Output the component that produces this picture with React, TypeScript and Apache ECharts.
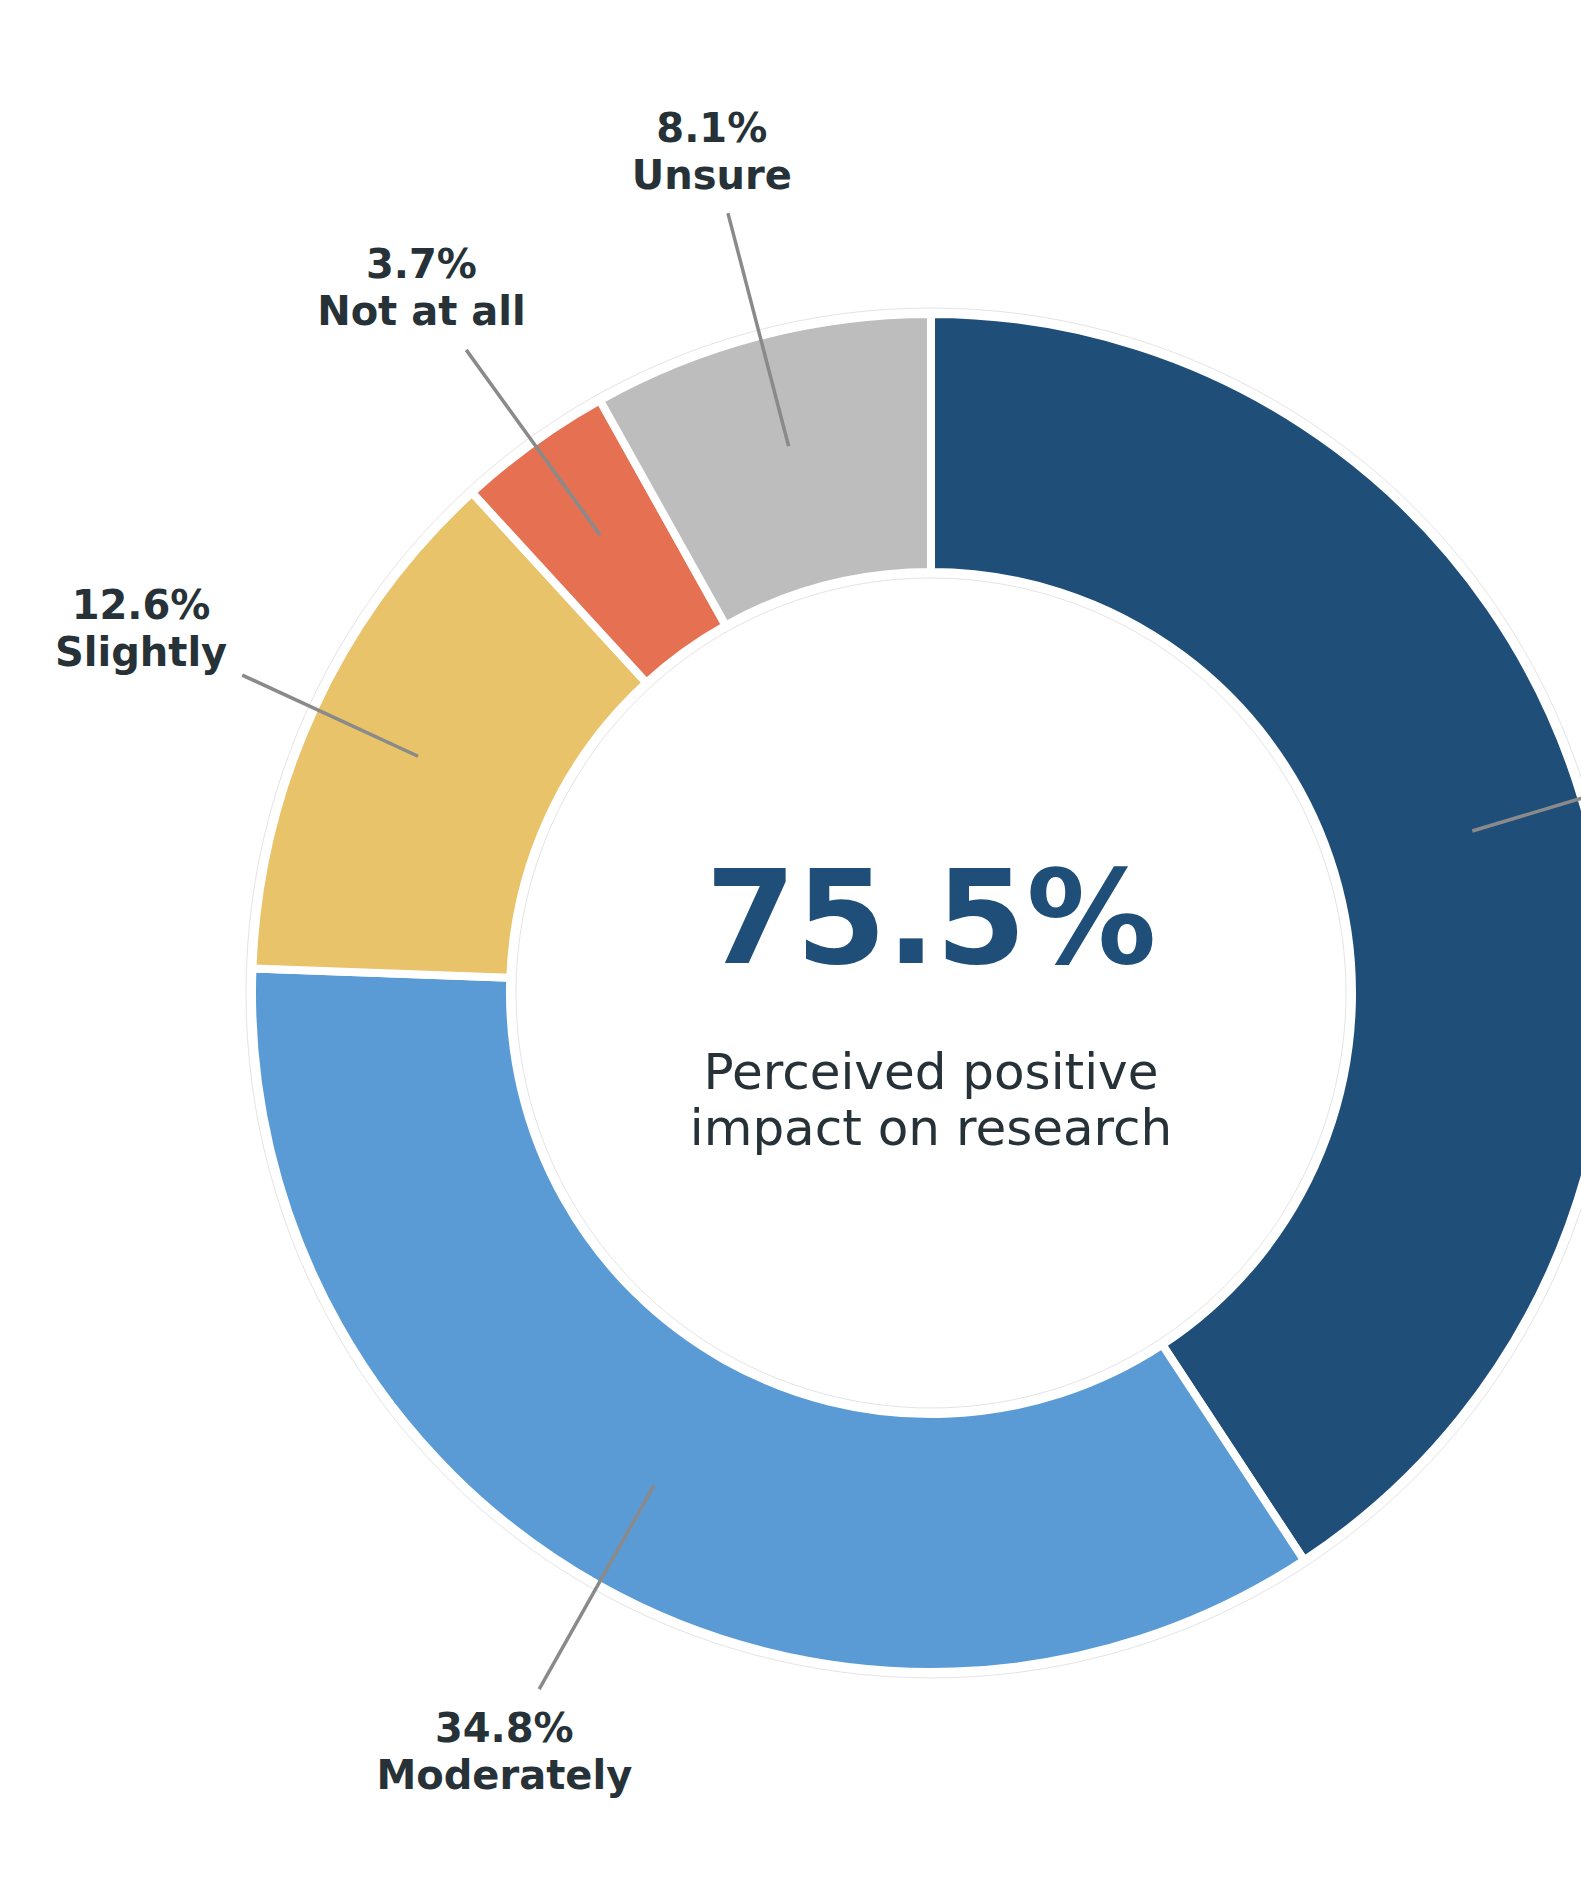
import React, { useEffect, useRef } from 'react';
import * as echarts from 'echarts';

// ---- data ----
const categories = ['Significantly', 'Moderately', 'Slightly', 'Not at all', 'Unsure'];
const values = [40.7, 34.8, 12.6, 3.7, 8.1];
const colors = ['#1F4E79', '#5B9BD5', '#E8C36A', '#E57052', '#BDBDBD'];
const headline = '75.5%';
const subtitleLines = ['Perceived positive', 'impact on research'];
// the first slice's label lies outside the cropped frame of the reference
const croppedLabelIndex = 0;

// ---- layout ----
const W = 1581;
const H = 1898;
const CX = 931;
const CY = 993;
const R_OUT = 679;
const R_IN = 421;
const LINE_START = 565;
const LABEL_R = 870;
const PAD = 15;
const TEXT_DARK = '#263238';
const FONT = 'DejaVu Sans';

export default function App() {
  const ref = useRef<HTMLDivElement>(null);

  useEffect(() => {
    document.body.style.margin = '0';
    document.body.style.overflow = 'hidden';
    if (!ref.current) return;
    const chart = echarts.init(ref.current, undefined, { renderer: 'svg' });
    const total = values.reduce((a, b) => a + b, 0);

    const labelLayout = (p: any) => {
      const i = p.dataIndex;
      let cum = 0;
      for (let k = 0; k < i; k++) cum += values[k];
      const th = (2 * Math.PI * (cum + values[i] / 2)) / total;
      const ux = Math.sin(th);
      const uy = -Math.cos(th);
      const lx = CX + LABEL_R * ux;
      const ly = CY + LABEL_R * uy;
      const hw = p.labelRect.width / 2 + PAD;
      const hh = p.labelRect.height / 2 + PAD;
      const tx = Math.abs(ux) > 1e-6 ? hw / Math.abs(ux) : Infinity;
      const ty = Math.abs(uy) > 1e-6 ? hh / Math.abs(uy) : Infinity;
      const t = Math.min(tx, ty);
      const sx = CX + LINE_START * ux;
      const sy = CY + LINE_START * uy;
      const ex = lx - t * ux;
      const ey = ly - t * uy;
      return {
        x: lx,
        y: ly,
        align: 'center',
        verticalAlign: 'middle',
        labelLinePoints: [
          [sx, sy],
          [(sx + ex) / 2, (sy + ey) / 2],
          [ex, ey],
        ],
      };
    };

    const option: any = {
      animation: false,
      backgroundColor: '#ffffff',
      graphic: [
        {
          type: 'circle',
          silent: true,
          z: 0,
          shape: { cx: CX, cy: CY, r: R_OUT + 6 },
          style: { fill: 'none', stroke: '#e4e4e4', lineWidth: 1 },
        },
        {
          type: 'circle',
          silent: true,
          z: 0,
          shape: { cx: CX, cy: CY, r: R_IN - 6 },
          style: { fill: 'none', stroke: '#e4e4e4', lineWidth: 1 },
        },
        {
          type: 'text',
          x: CX,
          y: 918,
          z: 10,
          style: {
            text: headline,
            fill: '#1F4E79',
            fontSize: 130,
            fontWeight: 'bold',
            fontFamily: FONT,
            align: 'center',
            verticalAlign: 'middle',
          },
        },
        {
          type: 'text',
          x: CX,
          y: 1072,
          z: 10,
          style: {
            text: subtitleLines[0],
            fill: TEXT_DARK,
            fontSize: 50,
            fontFamily: FONT,
            align: 'center',
            verticalAlign: 'middle',
          },
        },
        {
          type: 'text',
          x: CX,
          y: 1128,
          z: 10,
          style: {
            text: subtitleLines[1],
            fill: TEXT_DARK,
            fontSize: 50,
            fontFamily: FONT,
            align: 'center',
            verticalAlign: 'middle',
          },
        },
      ],
      series: [
        {
          type: 'pie',
          z: 2,
          center: [CX, CY],
          radius: [R_IN, R_OUT],
          startAngle: 90,
          clockwise: true,
          avoidLabelOverlap: false,
          emphasis: { disabled: true },
          silent: true,
          itemStyle: { borderColor: '#ffffff', borderWidth: 8 },
          data: categories.map((name, i) => ({
            name,
            value: values[i],
            itemStyle: { color: colors[i] },
          })),
          label: { show: false },
          labelLine: { show: false },
        },
        {
          // transparent twin ring that carries labels and leader lines above the slices
          type: 'pie',
          z: 5,
          center: [CX, CY],
          radius: [R_IN, R_OUT],
          startAngle: 90,
          clockwise: true,
          avoidLabelOverlap: false,
          emphasis: { disabled: true },
          silent: true,
          itemStyle: { color: 'rgba(0,0,0,0)', borderWidth: 0 },
          data: categories.map((name, i) => ({ name, value: values[i] })),
          label: {
            show: true,
            position: 'outside',
            formatter: (p: any) =>
              p.dataIndex === croppedLabelIndex ? ' ' : `${p.value}%\n${p.name}`,
            fontFamily: FONT,
            fontWeight: 'bold',
            fontSize: 40,
            lineHeight: 47,
            color: TEXT_DARK,
          },
          labelLine: {
            show: true,
            length: 10,
            length2: 10,
            smooth: false,
            lineStyle: { color: '#8a8a8a', width: 3.5 },
          },
          labelLayout,
        },
      ],
    };

    chart.setOption(option);
    return () => {
      chart.dispose();
    };
  }, []);

  return <div ref={ref} style={{ width: W, height: H }} />;
}
